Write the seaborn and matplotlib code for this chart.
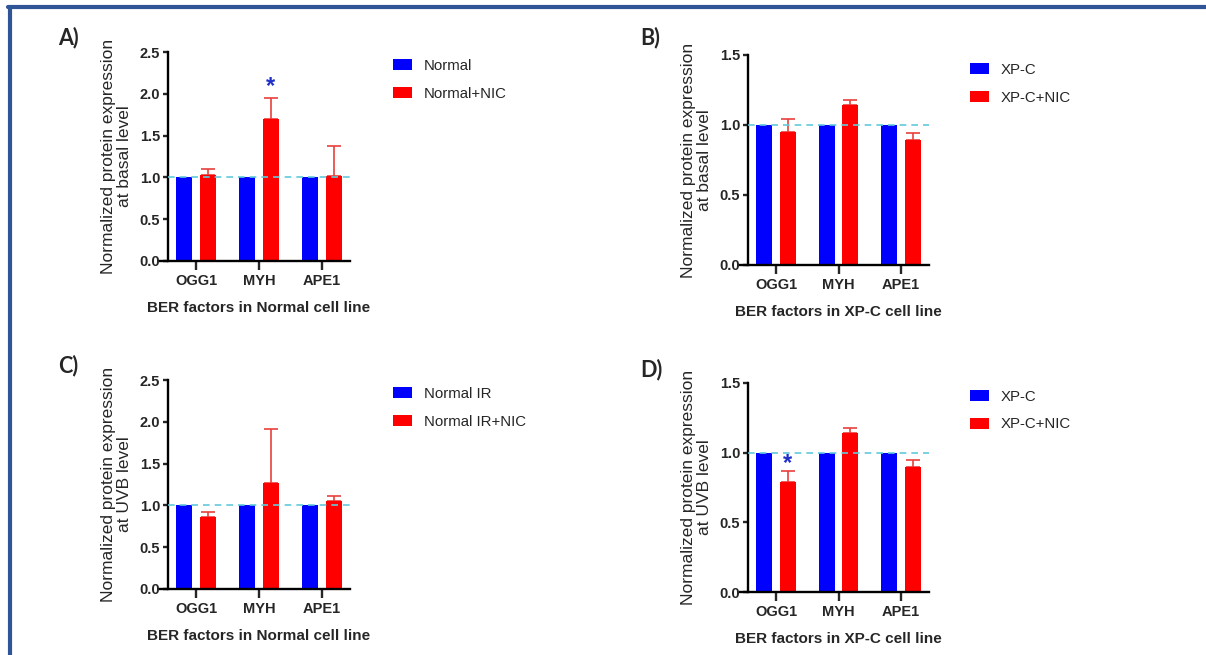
import matplotlib
matplotlib.use("Agg")
import matplotlib.pyplot as plt
from matplotlib.lines import Line2D
import pandas as pd
import seaborn as sns

factors = ["OGG1", "MYH", "APE1"]

# A) basal level, normal cell line
a_groups = ["Normal", "Normal+NIC"]
a_ctrl = [1.0, 1.0, 1.0]
a_nic = [1.03, 1.70, 1.02]
a_nic_err = [0.07, 0.25, 0.35]

# B) basal level, XP-C cell line
b_groups = ["XP-C", "XP-C+NIC"]
b_ctrl = [1.0, 1.0, 1.0]
b_nic = [0.95, 1.14, 0.89]
b_nic_err = [0.09, 0.04, 0.05]

# C) UVB level, normal cell line
c_groups = ["Normal IR", "Normal IR+NIC"]
c_ctrl = [1.0, 1.0, 1.0]
c_nic = [0.86, 1.27, 1.05]
c_nic_err = [0.06, 0.64, 0.06]

# D) UVB level, XP-C cell line
d_groups = ["XP-C", "XP-C+NIC"]
d_ctrl = [1.0, 1.0, 1.0]
d_nic = [0.79, 1.14, 0.90]
d_nic_err = [0.08, 0.04, 0.05]

# significance stars (factor, height)
a_star = ("MYH", 2.09)
d_star = ("OGG1", 0.92)

W, H = 1206, 655
BLUE, RED = "#0000FF", "#FF0000"
ERR_RED = "#E8403C"
STAR_BLUE = "#1F2FC8"
FONT = ["Liberation Sans", "DejaVu Sans"]

sns.set_style("white")
plt.rcParams["font.family"] = FONT


def px_axes(left, right, top, bottom):
    return [left / W, (H - bottom) / H, (right - left) / W, (bottom - top) / H]


def draw_panel(fig, box, tick0, spacing, groups, ctrl, nic, err, ymax,
               ylabel, xlabel, letter, letter_xy, legend_xy, star=None):
    left, right, top, bottom = box
    ax = fig.add_axes(px_axes(left, right, top, bottom))
    df = pd.DataFrame({
        "factor": factors * 2,
        "group": [groups[0]] * 3 + [groups[1]] * 3,
        "value": list(ctrl) + list(nic),
    })
    sns.barplot(data=df, x="factor", y="value", hue="group",
                palette=[BLUE, RED], saturation=1, width=0.76, gap=0.33,
                errorbar=None, linewidth=0, ax=ax)

    bars = ax.containers[1]
    xs = [b.get_x() + b.get_width() / 2 for b in bars]
    ax.errorbar(xs, nic, yerr=[[0] * len(nic), err], fmt="none",
                ecolor=ERR_RED, elinewidth=1.2, capsize=5, capthick=1.2,
                zorder=1)
    for b in bars:
        b.set_zorder(2)

    width_px = right - left
    ax.set_xlim(-(tick0 - left) / spacing, 2 + (right - tick0 - 2 * spacing) / spacing)
    ax.set_ylim(0, ymax)
    ax.set_yticks([v / 2 for v in range(int(ymax * 2) + 1)])
    ax.set_yticklabels([f"{v / 2:.1f}" for v in range(int(ymax * 2) + 1)])

    ax.axhline(1.0, xmin=8 / width_px, xmax=1.0, color="#62CADB",
               lw=1.2, ls=(0, (4, 3)), zorder=3)

    for side in ["top", "right"]:
        ax.spines[side].set_visible(False)
    for side in ["left", "bottom"]:
        ax.spines[side].set_linewidth(1.7)
        ax.spines[side].set_color("black")
    ax.spines["left"].set_position(("axes", 8 / width_px))
    ax.tick_params(axis="x", length=6.5, width=1.7, pad=3, bottom=True)
    ax.tick_params(axis="y", length=3.5, width=1.7, pad=2, left=True)
    for lab in ax.get_xticklabels() + ax.get_yticklabels():
        lab.set_fontweight("bold")
        lab.set_fontsize(10.5)

    ax.set_ylabel(ylabel, fontsize=12.5, linespacing=1.05)
    ax.yaxis.set_label_coords(-28 / width_px, 0.5)
    ax.set_xlabel(xlabel, fontsize=11, fontweight="bold")
    ax.xaxis.set_label_coords((tick0 + spacing - left) / width_px,
                              -40 / (bottom - top))

    handles, labels = ax.get_legend_handles_labels()
    ax.legend(handles, labels, loc="upper left",
              bbox_to_anchor=(legend_xy[0] / W, 1 - legend_xy[1] / H),
              bbox_transform=fig.transFigure, frameon=False, fontsize=10.8,
              handlelength=1.25, handleheight=0.75, handletextpad=0.8,
              labelspacing=0.9, borderpad=0, borderaxespad=0)

    if star is not None:
        ax.text(xs[factors.index(star[0])], star[1], "*", color=STAR_BLUE,
                fontsize=17, fontweight="bold", ha="center", va="center")

    fig.text(letter_xy[0] / W, 1 - letter_xy[1] / H, letter,
             fontsize=15.5, fontweight="bold", family=["Lato", "DejaVu Sans"],
             ha="left", va="center")
    return ax


fig = plt.figure(figsize=(W / 100, H / 100), dpi=100)
fig.patch.set_facecolor("white")

draw_panel(fig, (160, 350, 52, 261), 196, 63, a_groups, a_ctrl, a_nic,
           a_nic_err, 2.5,
           "Normalized protein expression\nat basal level",
           "BER factors in Normal cell line", "A)", (58, 38), (393, 59),
           star=a_star)
draw_panel(fig, (740, 929, 55, 265), 776, 62.5, b_groups, b_ctrl, b_nic,
           b_nic_err, 1.5,
           "Normalized protein expression\nat basal level",
           "BER factors in XP-C cell line", "B)", (640, 38), (970, 63))
draw_panel(fig, (160, 350, 380, 589), 196, 63, c_groups, c_ctrl, c_nic,
           c_nic_err, 2.5,
           "Normalized protein expression\nat UVB level",
           "BER factors in Normal cell line", "C)", (58, 366), (393, 387))
draw_panel(fig, (740, 929, 383, 592), 776, 62.5, d_groups, d_ctrl, d_nic,
           d_nic_err, 1.5,
           "Normalized protein expression\nat UVB level",
           "BER factors in XP-C cell line", "D)", (640, 370), (970, 390),
           star=d_star)

# blue frame along the top and left edge
frame = "#2F5597"
fig.add_artist(Line2D([8 / W, 1], [1 - 7 / H, 1 - 7 / H], color=frame,
                      lw=3, transform=fig.transFigure))
fig.add_artist(Line2D([10 / W, 10 / W], [0, 1 - 7 / H], color=frame,
                      lw=3, transform=fig.transFigure))

fig.savefig("out.png", dpi=100)
plt.close(fig)
